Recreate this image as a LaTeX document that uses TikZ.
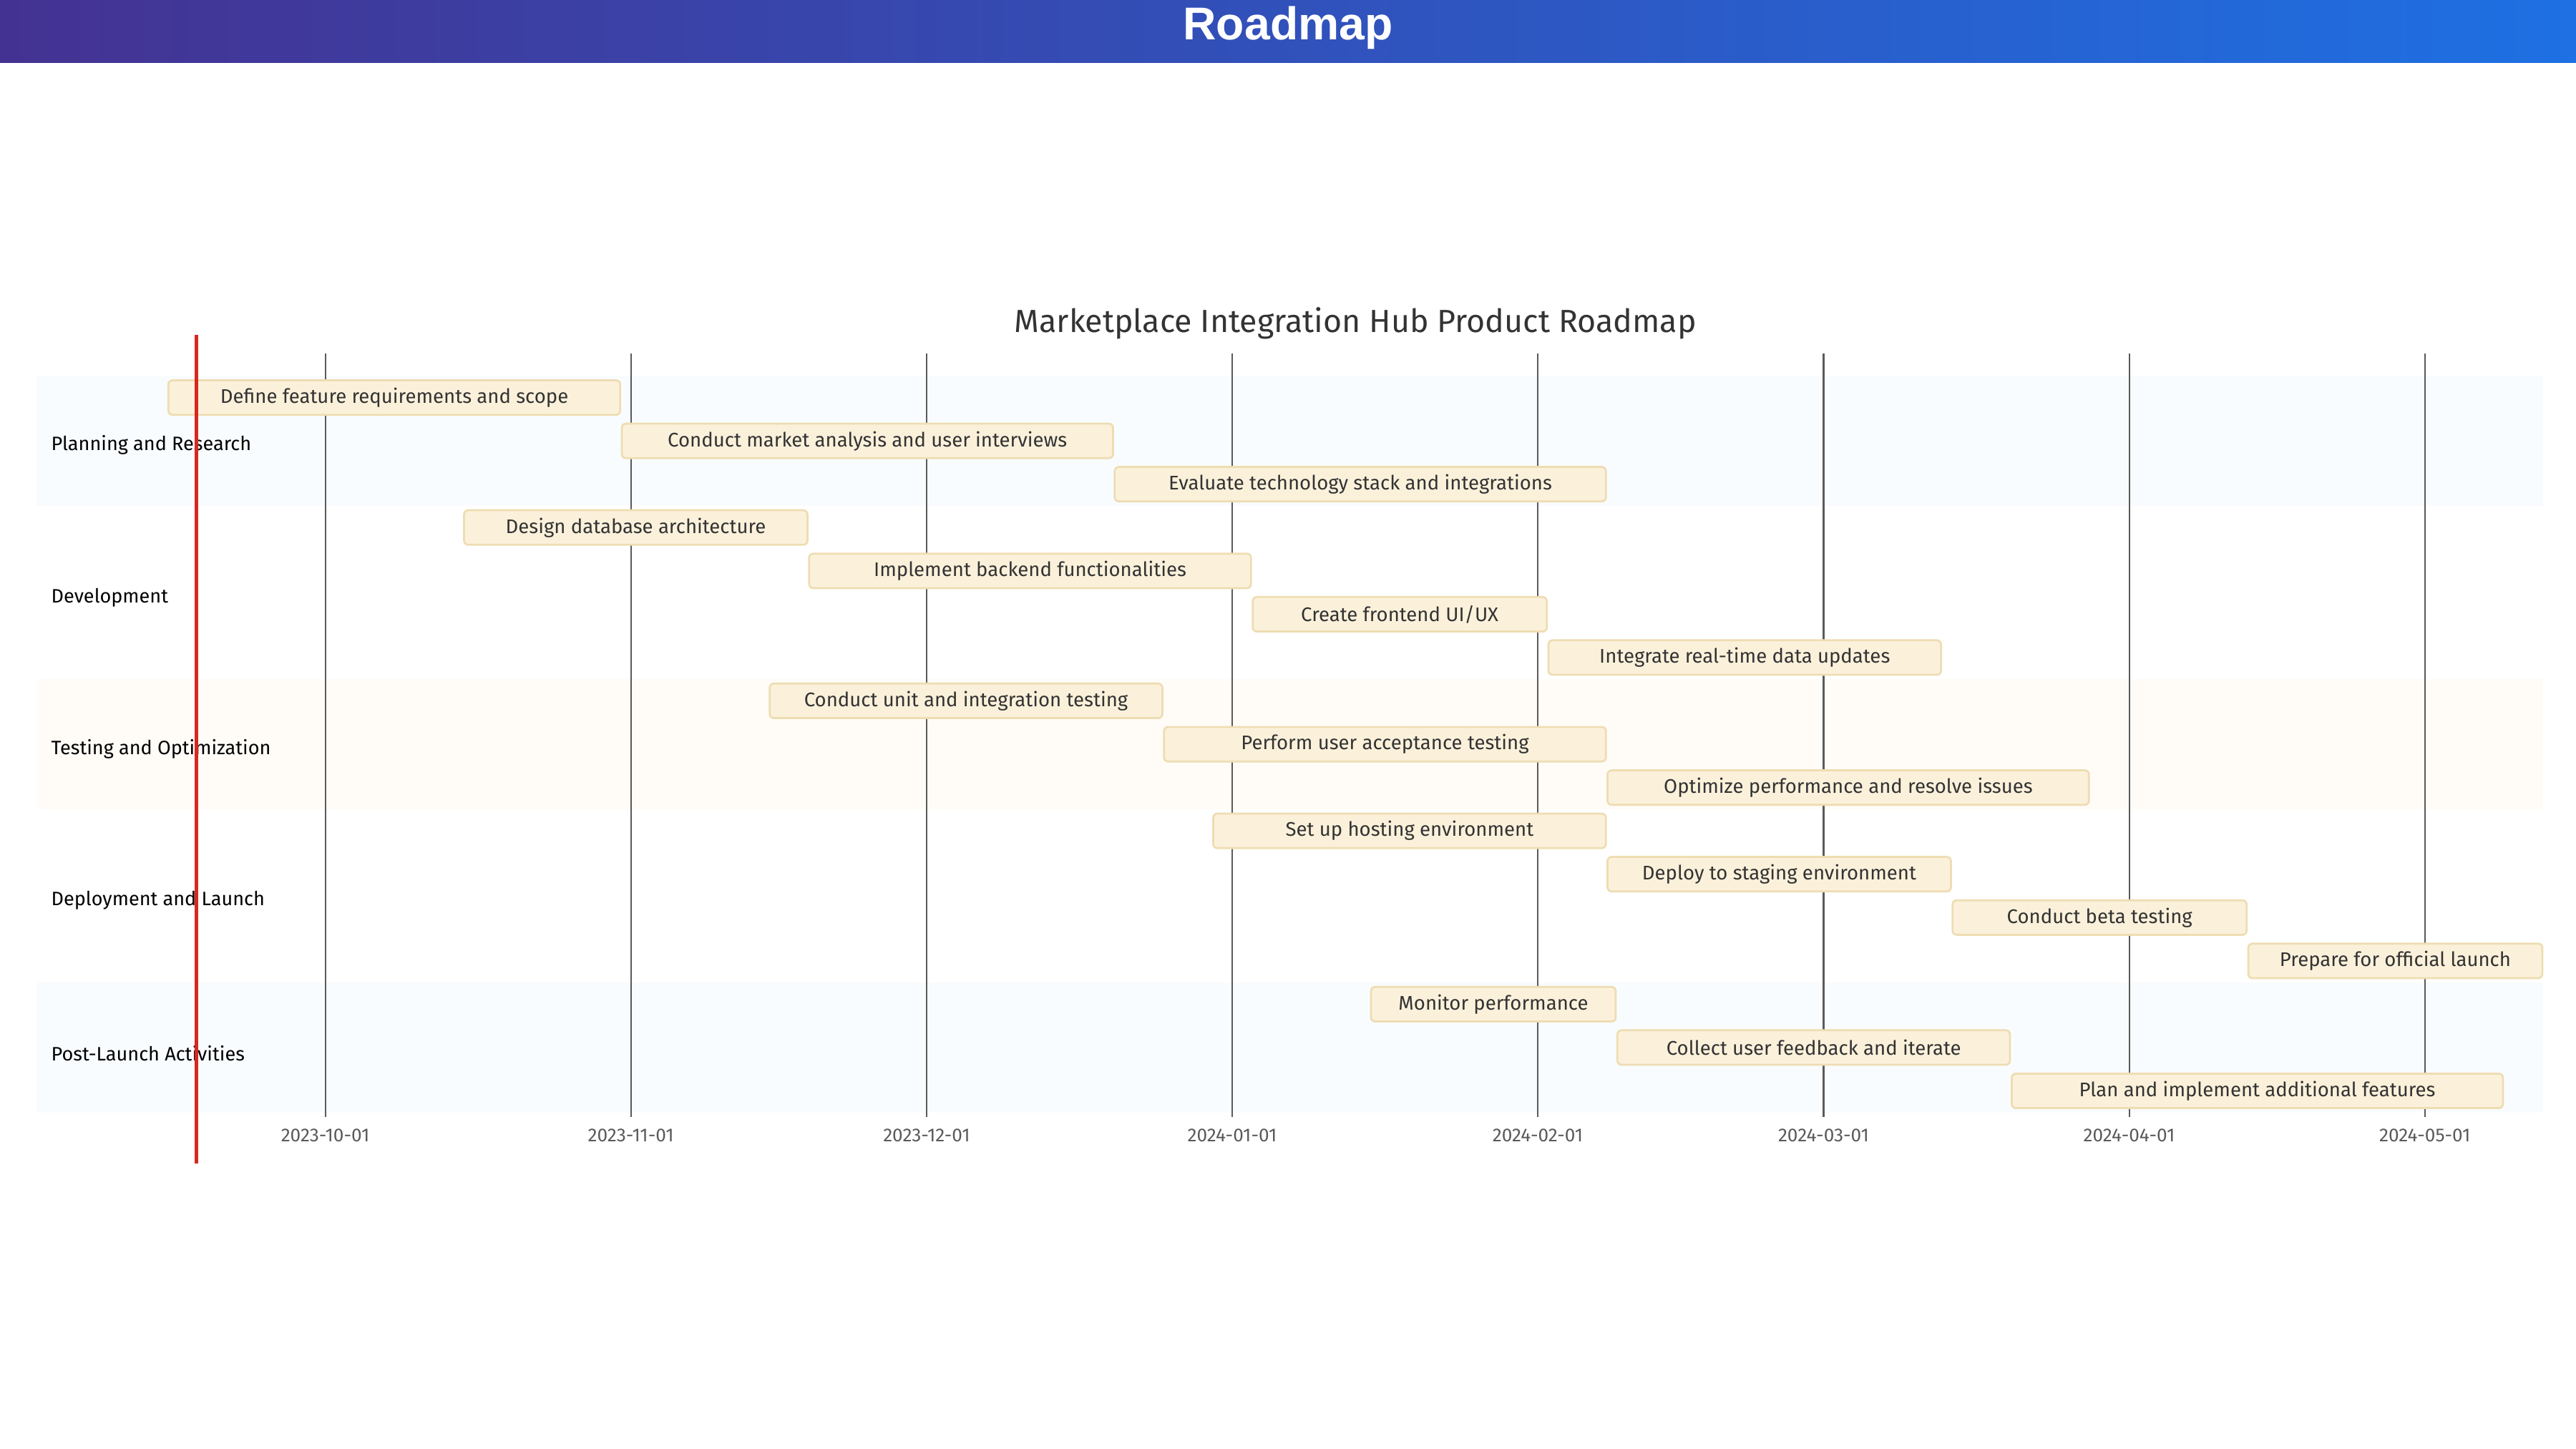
\documentclass[tikz,border=0pt]{standalone}
\usepackage{fontspec}
\setmainfont{Fira Sans}
\newfontfamily\headfont{Liberation Sans}
\usepackage{tikz}
\usetikzlibrary{positioning,calc}
\definecolor{hdrL}{HTML}{443292}
\definecolor{hdrR}{HTML}{1E70E3}
\definecolor{barfill}{HTML}{FBF1DB}
\definecolor{barline}{HTML}{EEDDB2}
\definecolor{bandA}{HTML}{F9FCFF}
\definecolor{bandB}{HTML}{FFFCF7}
\definecolor{gridc}{HTML}{5A5A5A}
\definecolor{todayc}{HTML}{D8271E}
\definecolor{txt}{HTML}{333333}
\tikzset{
  task/.style={draw=barline, fill=barfill, line width=1.2pt, rounded corners=2.5pt, minimum height=21pt,
    inner sep=0pt, text=txt, font=\fontsize{12}{14}\selectfont},
  sect/.style={anchor=west, inner sep=0pt, font=\fontsize{11.8}{14}\selectfont},
  datelbl/.style={inner sep=0pt, text=gridc, font=\fontsize{11.4}{13}\selectfont},
  gridl/.style={draw=gridc, line width=0.9pt},
  today/.style={draw=todayc, line width=2pt},
  band/.style={draw=none}}

\begin{document}
\begin{tikzpicture}[x=1pt, y=-1pt]
  \useasboundingbox (0,0) rectangle (1568,882);
  % header
  \shade[left color=hdrL, right color=hdrR] (0,0) rectangle (1568,38);
  \node[text=white, font=\headfont\bfseries\fontsize{28}{31}\selectfont] (hdr) at (784,17) {Roadmap};
  \node[text=txt, font=\fontsize{19.5}{23}\selectfont] (title) at (825,197) {Marketplace Integration Hub Product Roadmap};

  % section bands
  \fill[bandA] (22,228.8) rectangle (1548,307.9);
  \fill[bandB] (22,413.4) rectangle (1548,492.6);
  \fill[bandA] (22,598) rectangle (1548,677.2);

  % month grid, x = 198 + 6*day
  \foreach \d/\lbl in {0/2023-10-01, 31/2023-11-01, 61/2023-12-01, 92/2024-01-01,
      123/2024-02-01, 152/2024-03-01, 183/2024-04-01, 213/2024-05-01} {
    \draw[gridl] (198+6*\d,215) -- (198+6*\d,680);
    \node[datelbl] (m\d) at (198+6*\d,691) {\lbl};
  }

  % Planning and Research
  \node[task, minimum width=275pt] (t1) at (240,242) {Define feature requirements and scope};
  \node[task, minimum width=299pt] (t2) at (528,268.4) {Conduct market analysis and user interviews};
  \node[task, minimum width=299pt] (t3) at (828,294.75) {Evaluate technology stack and integrations};
  % Development
  \node[task, minimum width=209pt] (t4) at (387,321.1) {Design database architecture};
  \node[task, minimum width=269pt] (t5) at (627,347.5) {Implement backend functionalities};
  \node[task, minimum width=179pt] (t6) at (852,373.9) {Create frontend UI/UX};
  \node[task, minimum width=239pt] (t7) at (1062,400.25) {Integrate real-time data updates};
  % Testing and Optimization
  \node[task, minimum width=239pt] (t8) at (588,426.6) {Conduct unit and integration testing};
  \node[task, minimum width=269pt] (t9) at (843,453) {Perform user acceptance testing};
  \node[task, minimum width=293pt] (t10) at (1125,479.4) {Optimize performance and resolve issues};
  % Deployment and Launch
  \node[task, minimum width=239pt] (t11) at (858,505.75) {Set up hosting environment};
  \node[task, minimum width=209pt] (t12) at (1083,532.1) {Deploy to staging environment};
  \node[task, minimum width=179pt] (t13) at (1278,558.5) {Conduct beta testing};
  \node[task, minimum width=179pt] (t14) at (1458,584.9) {Prepare for official launch};
  % Post-Launch Activities
  \node[task, minimum width=149pt] (t15) at (909,611.25) {Monitor performance};
  \node[task, minimum width=239pt] (t16) at (1104,637.6) {Collect user feedback and iterate};
  \node[task, minimum width=299pt] (t17) at (1374,664) {Plan and implement additional features};

  % section titles
  \node[sect] (s1) at (31,271) {Planning and Research};
  \node[sect] (s2) at (31,364) {Development};
  \node[sect] (s3) at (31,456) {Testing and Optimization};
  \node[sect] (s4) at (31,548) {Deployment and Launch};
  \node[sect] (s5) at (31,641) {Post-Launch Activities};

  % today marker
  \coordinate (nowtop) at (119.5,204);
  \coordinate (nowbot) at (119.5,708);
  \draw[today] (nowtop) -- (nowbot);
\end{tikzpicture}
\end{document}
